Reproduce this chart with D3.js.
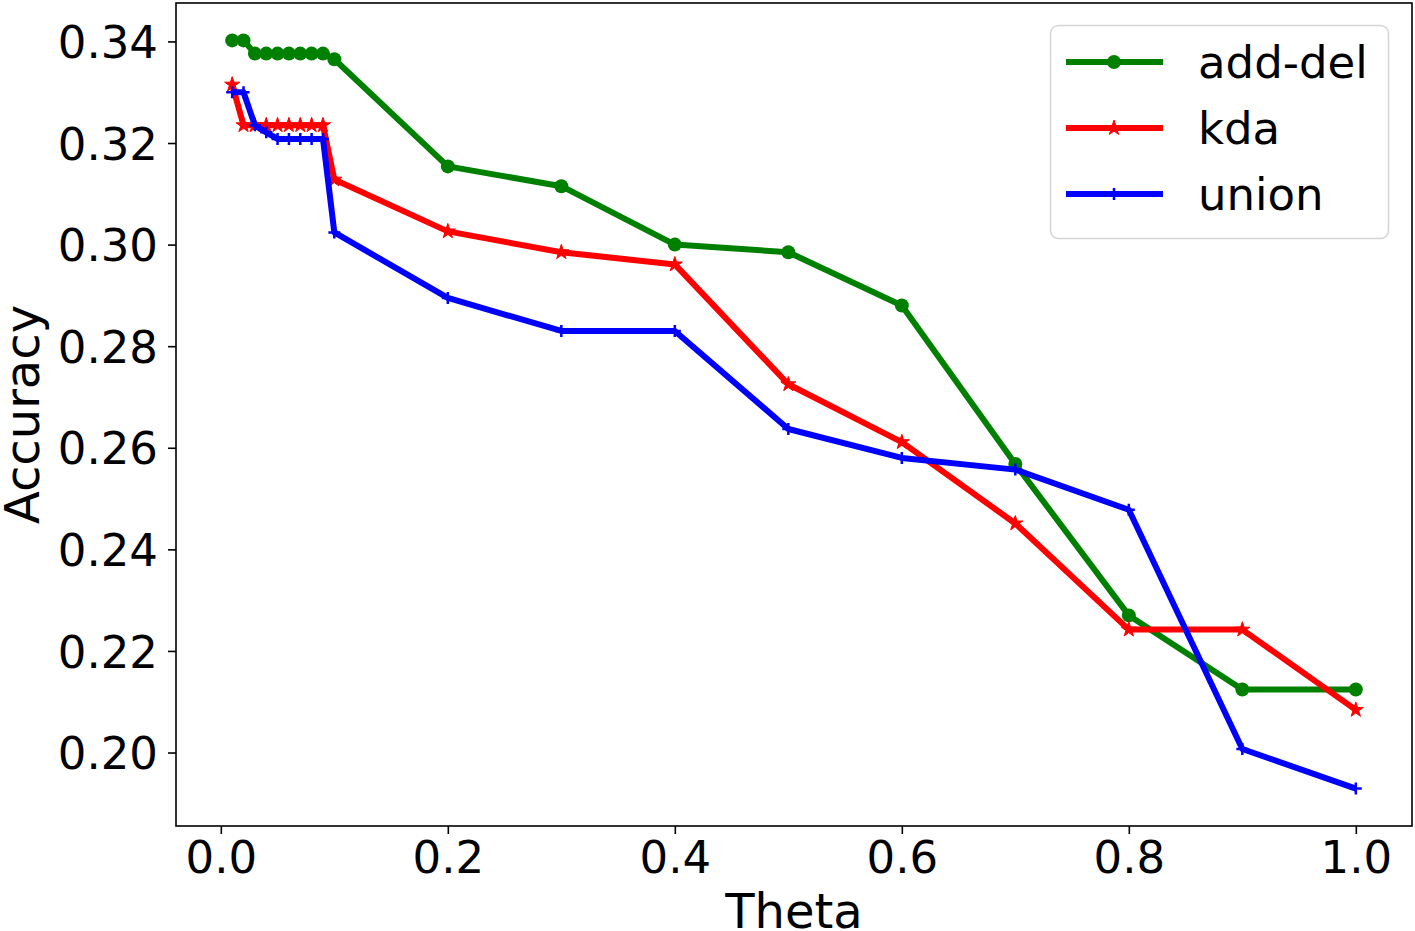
<!DOCTYPE html>
<html>
<head>
<meta charset="utf-8">
<script src="https://cdn.jsdelivr.net/npm/d3@7"></script>
<style>
  body { margin: 0; background: #fff; }
  text { font-family: "DejaVu Sans", sans-serif; fill: #000; }
</style>
</head>
<body>
<svg id="chart" width="1415" height="931"></svg>
<script>
var thetas = [0.01, 0.02, 0.03, 0.04, 0.05, 0.06, 0.07, 0.08, 0.09, 0.1,
              0.2, 0.3, 0.4, 0.5, 0.6, 0.7, 0.8, 0.9, 1.0];
var addDel = [0.3402, 0.3402, 0.3376, 0.3376, 0.3376, 0.3376, 0.3376, 0.3376, 0.3376, 0.3365,
              0.3154, 0.3115, 0.3000, 0.2985, 0.2880, 0.2568, 0.2270, 0.2124, 0.2124];
var kda = [0.3315, 0.3235, 0.3235, 0.3235, 0.3235, 0.3235, 0.3235, 0.3235, 0.3235, 0.3128,
           0.3026, 0.2985, 0.2961, 0.2725, 0.2611, 0.2451, 0.2242, 0.2242, 0.2084];
var union = [0.3300, 0.3300, 0.3235, 0.3221, 0.3208, 0.3208, 0.3208, 0.3208, 0.3208, 0.3024,
             0.2895, 0.2830, 0.2830, 0.2637, 0.2580, 0.2557, 0.2478, 0.2007, 0.1929];
var seriesNames = ["add-del", "kda", "union"];
var xTicks = [0.0, 0.2, 0.4, 0.6, 0.8, 1.0];
var yTicks = [0.20, 0.22, 0.24, 0.26, 0.28, 0.30, 0.32, 0.34];

var PLOT_LEFT = 176, PLOT_RIGHT = 1412, PLOT_TOP = 3, PLOT_BOTTOM = 826;
var LINE_WIDTH = 6;
var TICK_FONT = "45px";

var series = [
  { name: seriesNames[0], values: addDel, color: "green", marker: "circle" },
  { name: seriesNames[1], values: kda, color: "red", marker: "star" },
  { name: seriesNames[2], values: union, color: "blue", marker: "plus" }
];

var svg = d3.select("#chart");

// matplotlib style 5% margins around the data
var allY = addDel.concat(kda, union);
var xMin = d3.min(thetas), xMax = d3.max(thetas);
var yMin = d3.min(allY), yMax = d3.max(allY);
var xPad = (xMax - xMin) * 0.05, yPad = (yMax - yMin) * 0.05;

var x = d3.scaleLinear().domain([xMin - xPad, xMax + xPad]).range([PLOT_LEFT, PLOT_RIGHT]);
var y = d3.scaleLinear().domain([yMin - yPad, yMax + yPad]).range([PLOT_BOTTOM, PLOT_TOP]);

// axes
var xAxis = svg.append("g")
  .attr("transform", "translate(0," + PLOT_BOTTOM + ")")
  .call(d3.axisBottom(x).tickValues(xTicks).tickFormat(d3.format(".1f")).tickSize(8).tickPadding(7));
var yAxis = svg.append("g")
  .attr("transform", "translate(" + PLOT_LEFT + ",0)")
  .call(d3.axisLeft(y).tickValues(yTicks).tickFormat(d3.format(".2f")).tickSize(8).tickPadding(10));

[xAxis, yAxis].forEach(function (ax) {
  ax.select(".domain").remove();
  ax.selectAll(".tick line").attr("stroke", "#000").attr("stroke-width", 1.6);
  ax.selectAll(".tick text")
    .style("font-size", TICK_FONT)
    .style("font-family", "'DejaVu Sans', sans-serif")
    .attr("fill", "#000");
});
yAxis.selectAll(".tick text").attr("dy", "0.36em");

// frame
svg.append("rect")
  .attr("x", PLOT_LEFT)
  .attr("y", PLOT_TOP)
  .attr("width", PLOT_RIGHT - PLOT_LEFT)
  .attr("height", PLOT_BOTTOM - PLOT_TOP)
  .attr("fill", "none")
  .attr("stroke", "#000")
  .attr("stroke-width", 1.6);

// axis labels
svg.append("text")
  .attr("x", (PLOT_LEFT + PLOT_RIGHT) / 2)
  .attr("y", 928)
  .attr("text-anchor", "middle")
  .style("font-size", "48px")
  .text("Theta");

svg.append("text")
  .attr("transform", "translate(39," + ((PLOT_TOP + PLOT_BOTTOM) / 2) + ") rotate(-90)")
  .attr("text-anchor", "middle")
  .style("font-size", "48px")
  .text("Accuracy");

function drawMarker(g, kind, color, cx, cy) {
  if (kind === "circle") {
    g.append("circle").attr("cx", cx).attr("cy", cy).attr("r", 7).attr("fill", color);
  } else if (kind === "star") {
    g.append("path")
      .attr("d", d3.symbol().type(d3.symbolStar).size(70)())
      .attr("transform", "translate(" + cx + "," + cy + ")")
      .attr("fill", color)
      .attr("stroke", color)
      .attr("stroke-width", 1);
  } else {
    g.append("path")
      .attr("d", "M-6,0H6M0,-6V6")
      .attr("transform", "translate(" + cx + "," + cy + ")")
      .attr("stroke", color)
      .attr("stroke-width", 2.5)
      .attr("fill", "none");
  }
}

var line = d3.line()
  .x(function (d) { return x(d[0]); })
  .y(function (d) { return y(d[1]); });

var plot = svg.append("g");

series.forEach(function (s) {
  var pts = thetas.map(function (t, i) { return [t, s.values[i]]; });
  var g = plot.append("g");
  g.append("path")
    .datum(pts)
    .attr("d", line)
    .attr("fill", "none")
    .attr("stroke", s.color)
    .attr("stroke-width", LINE_WIDTH)
    .attr("stroke-linejoin", "round");
  pts.forEach(function (p) {
    drawMarker(g, s.marker, s.color, x(p[0]), y(p[1]));
  });
});

// legend
var legend = svg.append("g");
legend.append("rect")
  .attr("x", 1050.5)
  .attr("y", 25.5)
  .attr("width", 338)
  .attr("height", 213)
  .attr("rx", 8)
  .attr("ry", 8)
  .attr("fill", "#fff")
  .attr("fill-opacity", 0.8)
  .attr("stroke", "#d4d4d4")
  .attr("stroke-width", 1.5);

series.forEach(function (s, i) {
  var ly = 62 + i * 66;
  legend.append("line")
    .attr("x1", 1066).attr("x2", 1163)
    .attr("y1", ly).attr("y2", ly)
    .attr("stroke", s.color)
    .attr("stroke-width", LINE_WIDTH);
  drawMarker(legend, s.marker, s.color, 1114, ly);
  legend.append("text")
    .attr("x", 1198)
    .attr("y", ly)
    .attr("dy", "0.36em")
    .style("font-size", TICK_FONT)
    .text(s.name);
});
</script>
</body>
</html>
